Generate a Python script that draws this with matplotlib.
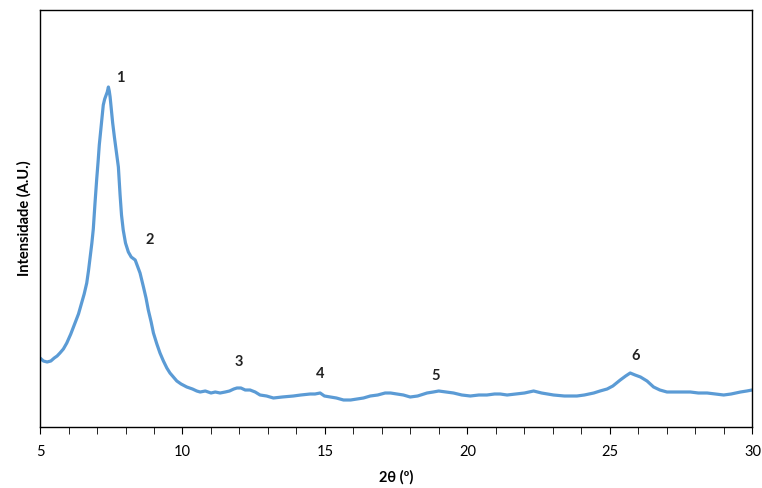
import matplotlib
matplotlib.use('Agg')
import matplotlib.pyplot as plt
from matplotlib.ticker import MultipleLocator

# 2theta (deg) and intensity (arbitrary units)
two_theta = [5.00, 5.12, 5.25, 5.38, 5.50, 5.60, 5.70, 5.82, 5.94, 6.08, 6.23, 6.35,
             6.46, 6.55, 6.64, 6.70, 6.76, 6.82, 6.87, 6.93, 6.99, 7.04, 7.08, 7.13,
             7.17, 7.22, 7.27, 7.32, 7.36, 7.40, 7.43, 7.46, 7.50, 7.55, 7.61, 7.67,
             7.75, 7.81, 7.86, 7.92, 8.00, 8.10, 8.20, 8.34, 8.42, 8.51, 8.63, 8.72,
             8.80, 8.90, 8.98, 9.10, 9.21, 9.33, 9.45, 9.56, 9.68, 9.80, 9.95, 10.15,
             10.35, 10.50, 10.62, 10.80, 11.00, 11.15, 11.32, 11.50, 11.65, 11.80,
             11.91, 12.05, 12.20, 12.37, 12.55, 12.72, 12.95, 13.19, 13.50, 13.89,
             14.15, 14.48, 14.65, 14.83, 14.98, 15.18, 15.40, 15.65, 15.90, 16.12,
             16.35, 16.59, 16.85, 17.11, 17.30, 17.52, 17.75, 17.99, 18.25, 18.58,
             18.80, 18.99, 19.25, 19.51, 19.80, 20.10, 20.40, 20.68, 20.95, 21.15,
             21.39, 21.70, 22.00, 22.32, 22.60, 23.02, 23.40, 23.84, 24.10, 24.43,
             24.65, 24.90, 25.10, 25.36, 25.55, 25.71, 25.88, 26.07, 26.30, 26.53,
             26.75, 27.00, 27.40, 27.82, 28.10, 28.41, 28.70, 28.99, 29.25, 29.58,
             29.80, 29.99]
intensity = [67, 64, 63, 64, 67, 69, 72, 76, 82, 91, 102, 111,
             122, 131, 142, 154, 168, 182, 196, 222, 246, 264, 280, 294,
             305, 320, 326, 330, 333, 338, 334, 328, 316, 302, 288, 275,
             258, 230, 210, 195, 182, 173, 168, 165, 159, 152, 138, 127,
             115, 103, 92, 81, 72, 64, 57, 52, 48, 44, 41, 38,
             36, 34, 33, 34, 32, 33, 32, 33, 34, 36,
             37, 37, 35, 35, 33, 30, 29, 27, 28, 29,
             30, 31, 31, 32, 29, 28, 27, 25, 25, 26,
             27, 29, 30, 32, 32, 31, 30, 28, 29, 32,
             33, 34, 33, 32, 30, 29, 30, 30, 31, 31,
             30, 31, 32, 34, 32, 30, 29, 29, 30, 32,
             34, 36, 39, 45, 49, 52, 50, 48, 44, 38,
             35, 33, 33, 33, 32, 32, 31, 30, 31, 33,
             34, 35]

peak_labels = ['1', '2', '3', '4', '5', '6']
peak_x = [7.80, 8.85, 11.96, 14.83, 18.88, 25.91]
peak_y = [347, 185, 63, 51, 49, 69]

plt.rcParams['font.family'] = ['Lato', 'DejaVu Sans']

fig = plt.figure(figsize=(7.62, 4.88), dpi=100)
ax = fig.add_axes([0.0525, 0.125, 0.935, 0.8545])

ax.plot(two_theta, intensity, color='#5B9BD5', linewidth=2.3)

for lab, px, py in zip(peak_labels, peak_x, peak_y):
    ax.text(px, py, lab, fontsize=10.5, fontweight='bold', color='#222222',
            ha='center', va='center')

ax.set_xlim(5, 30)
ax.set_ylim(-2, 415)
ax.xaxis.set_major_locator(MultipleLocator(5))
ax.xaxis.set_minor_locator(MultipleLocator(1))
ax.tick_params(axis='x', which='major', direction='out', length=5, labelsize=10.5, pad=8)
ax.tick_params(axis='x', which='minor', direction='out', length=5)
ax.set_yticks([])

for s in ax.spines.values():
    s.set_linewidth(1.0)
    s.set_color('black')

ax.set_xlabel('2θ (º)', fontsize=10.5, fontweight='bold', labelpad=8)
ax.set_ylabel('Intensidade (A.U.)', fontsize=10.5, fontweight='bold', labelpad=6)

fig.savefig('out.png', dpi=100)
